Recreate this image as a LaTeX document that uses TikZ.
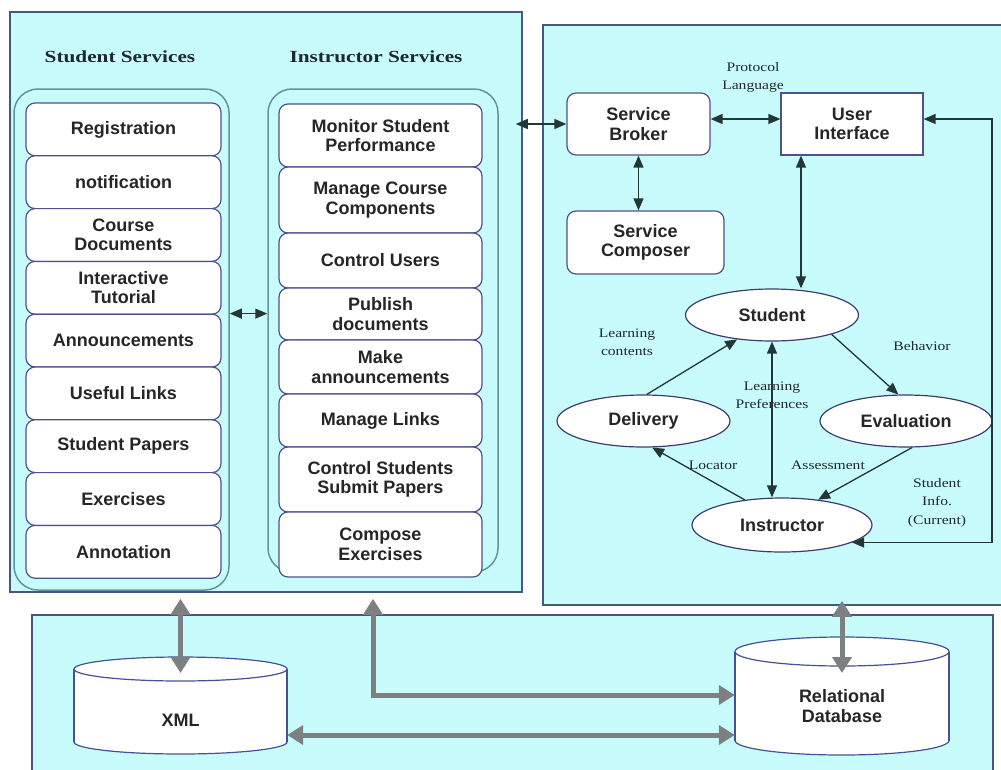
\documentclass[tikz,border=0pt]{standalone}
\usepackage{fontspec}
\setmainfont{Liberation Sans}
\newfontfamily\labfont[FakeStretch=1.2]{Liberation Serif}
\newfontfamily\headfont[FakeStretch=1.25]{Liberation Serif}
\usetikzlibrary{arrows.meta}
\usetikzlibrary{shapes.geometric}
\definecolor{panelf}{RGB}{200,252,252}
\definecolor{panelc}{RGB}{70,88,125}
\definecolor{framec}{RGB}{95,150,150}
\definecolor{boxc}{RGB}{80,80,140}
\definecolor{ovalc}{RGB}{60,60,110}
\definecolor{dbc}{RGB}{70,80,150}
\definecolor{linec}{RGB}{35,55,55}
\definecolor{grayc}{RGB}{125,128,128}
\definecolor{labc}{RGB}{30,40,45}
\newcommand{\bx}{\fontsize{18}{19.5}\selectfont\bfseries}
\newcommand{\lab}{\labfont\fontsize{13}{18.5}\selectfont}
\newcommand{\hd}{\headfont\bfseries\fontsize{17}{20}\selectfont}

\begin{document}
\begin{tikzpicture}[x=1pt,y=-1pt,
  >={Triangle[length=12pt,width=10pt]},
  panel/.style={draw=panelc,line width=1.5pt,fill=panelf},
  frame/.style={draw=framec,line width=1.5pt,rounded corners=24pt},
  sbox/.style={draw=boxc,line width=1.2pt,fill=white,rounded corners=9pt,
    minimum width=195pt,minimum height=52.8pt,align=center,inner sep=2pt,
    text=black!85,font=\bx},
  ibox/.style={sbox,minimum width=203pt},
  rbox/.style={draw=boxc,line width=1.2pt,fill=white,rounded corners=9pt,
    align=center,text=black!85,font=\bx},
  oval/.style={ellipse,draw=ovalc,line width=1.2pt,fill=white,inner sep=0pt,
    text=black!85,font=\bx},
  lab/.style={align=center,inner sep=0pt,text=labc,font=\lab},
  arr/.style={draw=linec,line width=1.3pt},
  bigarr/.style={draw=grayc,line width=5pt,>={Triangle[length=16pt,width=19pt]}},
  dbline/.style={draw=dbc,line width=1.2pt}]
\useasboundingbox (0,0) rectangle (1001,769);
\clip (0,0) rectangle (1001,769);

% the three panels
\node (svc) [panel,minimum width=512pt,minimum height=580pt] at (266,302) {};
\node (rpanel) [panel,minimum width=467pt,minimum height=580pt] at (776.5,315) {};
\node (dpanel) [panel,minimum width=961pt,minimum height=165pt] at (512.5,697.5) {};

% services
\node (stuhead) [text=labc,font=\hd] at (120,57) {Student Services};
\node (inshead) [text=labc,font=\hd] at (376,57) {Instructor Services};
\node (stuframe) [frame,minimum width=215pt,minimum height=501pt] at (121.5,339.5) {};
\node (insframe) [frame,minimum width=230pt,minimum height=483pt] at (383,330.5) {};

\draw (123.5,129.4) node[sbox] (reg) {Registration}
  +(0,52.8) node[sbox] (notif) {notification}
  +(0,105.6) node[sbox] (cdocs) {Course\\Documents}
  +(0,158.4) node[sbox] (tutor) {Interactive\\Tutorial}
  +(0,211.2) node[sbox] (annc) {Announcements}
  +(0,264) node[sbox] (links) {Useful Links}
  +(0,316.8) node[sbox] (papers) {Student Papers}
  +(0,369.6) node[sbox] (exer) {Exercises}
  +(0,422.4) node[sbox] (annot) {Annotation};

\draw (380.5,135.5) node[ibox,minimum height=63pt] (mon) {Monitor Student\\Performance}
  +(0,64.5) node[ibox,minimum height=66pt] (mcc) {Manage Course\\Components}
  +(0,125) node[ibox,minimum height=55pt] (cusers) {Control Users}
  +(0,178.5) node[ibox,minimum height=52pt] (pubdoc) {Publish\\documents}
  +(0,231.5) node[ibox,minimum height=54pt] (mkann) {Make\\announcements}
  +(0,285) node[ibox,minimum height=53pt] (mlinks) {Manage Links}
  +(0,344) node[ibox,minimum height=65pt] (csub) {Control Students\\Submit Papers}
  +(0,409) node[ibox,minimum height=65pt] (compose) {Compose\\Exercises};

% broker side
\node (broker) [rbox,minimum width=143pt,minimum height=62pt] at (638.5,124) {Service\\Broker};
\node (ui) [rbox,sharp corners,minimum width=142pt,minimum height=62pt] at (852,124) {User\\Interface};
\node (composer) [rbox,minimum width=157pt,minimum height=63pt] at (645.5,242.5) {Service\\Composer};

\node (student) [oval,minimum width=173pt,minimum height=52pt] at (772,315) {Student};
\node (delivery) [oval,minimum width=173pt,minimum height=52pt] at (643.5,421) {Delivery};
\node (evaluation) [oval,minimum width=172pt,minimum height=52pt] at (906,421) {Evaluation};
\node (instructor) [oval,minimum width=180pt,minimum height=54pt] at (782,525) {Instructor};

\node (proto) [lab] at (753,77.5) {Protocol\\Language};
\node (lcont) [lab] at (627,342.5) {Learning\\contents};
\node (behav) [lab] at (922,346) {Behavior};
\node (lpref) [lab] at (772,395.5) {Learning\\Preferences};
\node (locat) [lab] at (713,465) {Locator};
\node (assess) [lab] at (828,465) {Assessment};
\node (sinfo) [lab] at (937,502.5) {Student\\Info.\\(Current)};

\draw[arr,<->] (stuframe.east |- annc.north) -- (insframe.west |- annc.north);
\draw[arr,<->] ([xshift=-7pt]svc.east |- broker.west) -- (broker.west);
\draw[arr,<->] ([yshift=5pt]broker.east) -- ([yshift=5pt]ui.west);
\draw[arr,<->] (broker.south) -- (broker.south |- composer.north);
\draw[arr,<->] ([xshift=-51pt]ui.south) -- ([xshift=-51pt]ui.south |- student.north);
\draw[arr,->] (delivery.83) -- (student.215);
\draw[arr,->] (student.-18) -- (evaluation.106);
\draw[arr,<->] (student.south) -- (student.south |- instructor.north);
\draw[arr,->] (instructor.146) -- (delivery.-72);
\draw[arr,->] (evaluation.-77) -- (instructor.35.5);
\coordinate (loopx) at (992,0);
\draw[arr,<->] ([yshift=5pt]ui.east) -| (instructor.-14.6 -| loopx) -- (instructor.-14.6);

% databases
\draw[dbline,fill=white] (180.5,742) ellipse [x radius=106.5,y radius=12];
\fill[white] (74,669) rectangle (287,742);
\draw[dbline] (74,669) -- (74,742) (287,669) -- (287,742);
\draw[dbline,fill=white] (180.5,669) ellipse [x radius=106.5,y radius=12];
\node (xml) [minimum width=213pt,inner sep=0pt,text=black!85,font=\bx] at (180.5,720) {XML};
\coordinate (xmlcap) at (180.5,673);

\draw[dbline,fill=white] (842,740.5) ellipse [x radius=107,y radius=14.5];
\fill[white] (735,651.5) rectangle (949,740.5);
\draw[dbline] (735,651.5) -- (735,740.5) (949,651.5) -- (949,740.5);
\draw[dbline,fill=white] (842,651.5) ellipse [x radius=107,y radius=14.5];
\node (rdb) [minimum width=214pt,inner sep=0pt,align=center,text=black!85,font=\bx] at (842,706) {Relational\\Database};
\coordinate (rdbcap) at (842,673);

\coordinate (tapx) at (373,0);
\draw[bigarr,<->] ([yshift=-6pt]svc.south -| xmlcap) -- (xmlcap);
\draw[bigarr,<->] ([yshift=-6pt]svc.south -| tapx) |- ([yshift=11pt]rdb.west);
\draw[bigarr,<->] ([yshift=-15pt]xml.east) -- ([yshift=-15pt]xml.east -| rdb.west);
\draw[bigarr,<->] ([yshift=5pt]rpanel.south -| rdbcap) -- (rdbcap);
\end{tikzpicture}
\end{document}
